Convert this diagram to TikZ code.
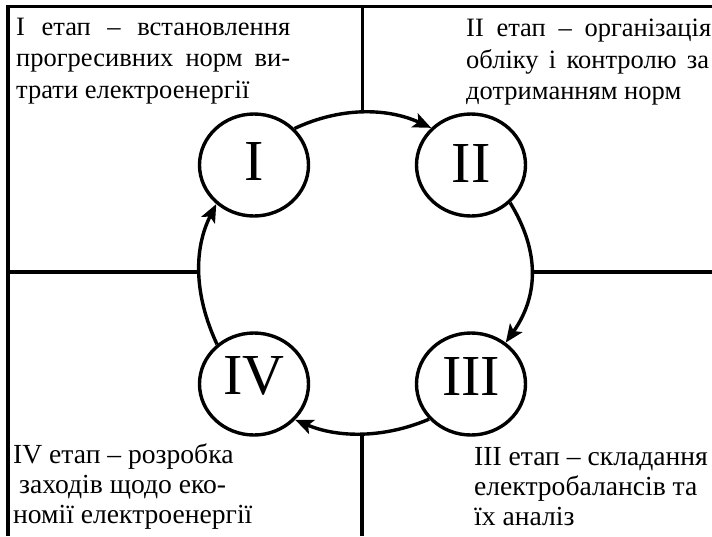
\documentclass[tikz,border=0pt]{standalone}
\usepackage{fontspec}
\setmainfont{Liberation Serif}
\usetikzlibrary{arrows.meta,shapes.geometric}
\begin{document}
\begin{tikzpicture}[x=1pt,y=-1pt,
  stage/.style={ellipse, draw, line width=3.4pt, minimum width=109pt, minimum height=102pt, inner sep=0pt, font=\fontsize{58}{60}\selectfont},
  wire/.style={line width=3.4pt},
  flow/.style={line width=3.4pt, -{Stealth[length=18pt,width=15pt,inset=4pt]}},
  note/.style={anchor=base west, inner sep=0pt, font=\fontsize{26.5}{31.5}\selectfont},
  lownote/.style={anchor=base west, inner sep=0pt, font=\fontsize{27.6}{30}\selectfont}]
\useasboundingbox (0,0) rectangle (712,536);
% frame
\coordinate (tr) at (712,6.7);
\coordinate (tl) at (8,6.7);
\coordinate (bl) at (8,536);
\draw[wire] (tr) -- (tl) -- (bl);
% stages
\node[stage, text depth=6pt]  (n1) at (254,165) {I};
\node[stage, text depth=2pt]  (n2) at (471,165) {II};
\node[stage, text depth=15pt] (n3) at (471,384) {III};
\node[stage, text depth=16pt] (n4) at (254,384) {IV};
% cycle arrows
\draw[flow] (n1.42) .. controls (339.7,107.3) and (386.3,107.3) .. (n2.137);
\draw[flow] (n2.-44) .. controls (539.3,250.3) and (539.3,295) .. (n3.50);
\draw[flow] (n3.220) .. controls (385,438) and (338.7,438.3) .. (n4.-41);
\draw[flow] (n4.133) .. controls (193.7,294.3) and (193.7,248.7) .. (n1.226);
% divider lines
\coordinate (jt) at (362.5,113);
\coordinate (jr) at (532,272);
\coordinate (jb) at (362,433);
\coordinate (jl) at (199,272);
\coordinate (et) at (362.5,6.7);
\coordinate (er) at (712,272);
\coordinate (eb) at (362,536);
\coordinate (el) at (8,272);
\draw[wire] (et) -- (jt);
\draw[wire] (jr) -- (er);
\draw[wire] (jb) -- (eb);
\draw[wire] (el) -- (jl);
% texts
\node[note] (t1) at (16,35) {\begin{tabular}[t]{@{}l@{}}\makebox[274pt][s]{I етап – встановлення}\\\makebox[274pt][s]{прогресивних норм ви-}\\трати електроенергії\end{tabular}};
\node[note] (t2) at (466,36.5) {\begin{tabular}[t]{@{}l@{}}\makebox[245pt][s]{II етап – організація}\\\makebox[243pt][s]{обліку і контролю за}\\дотриманням норм\end{tabular}};
\node[lownote] (t3) at (13,463) {\begin{tabular}[t]{@{}l@{}}IV етап – розробка\\\hspace{6pt}заходів щодо еко-\\номії електроенергії\end{tabular}};
\node[lownote] (t4) at (474,465) {\begin{tabular}[t]{@{}l@{}}III етап – складання\\електробалансів та\\їх аналіз\end{tabular}};
\end{tikzpicture}
\end{document}
